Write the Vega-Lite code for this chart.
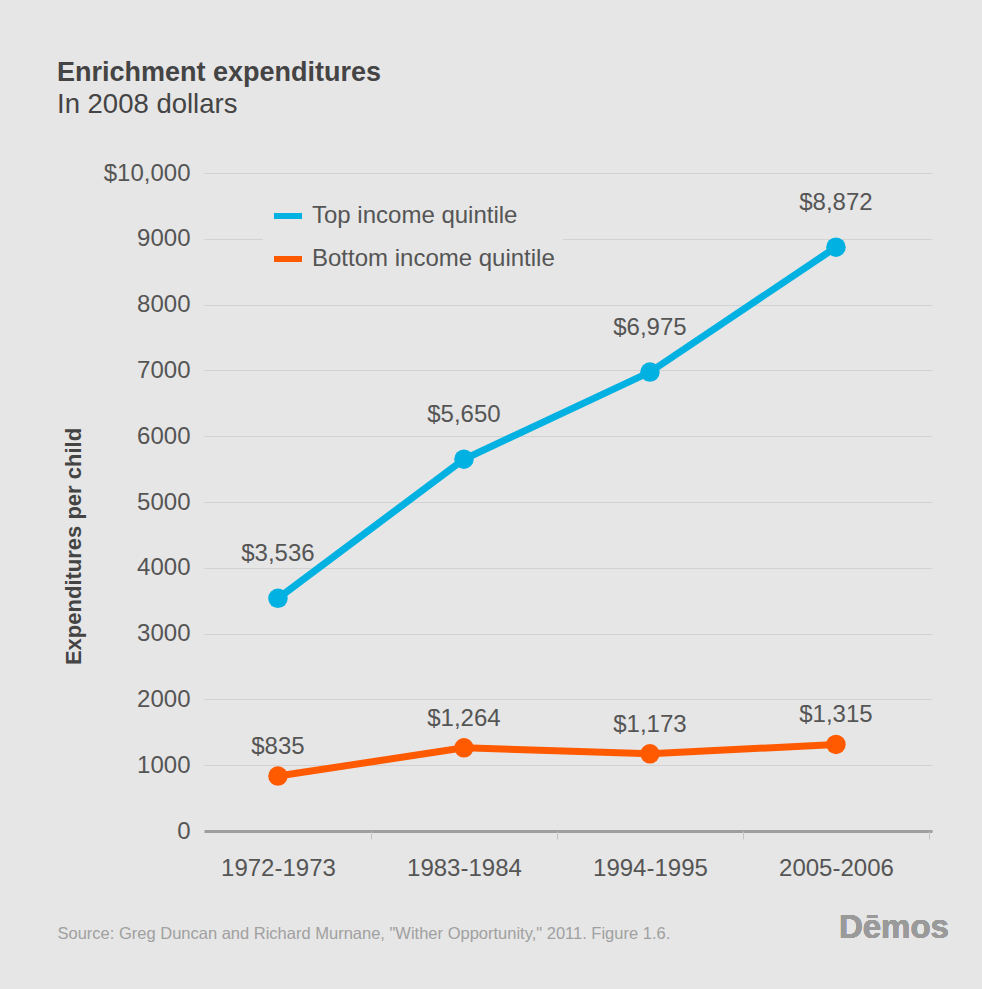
{
  "$schema": "https://vega.github.io/schema/vega-lite/v6.json",
  "autosize": {"type": "none"},
  "width": 728,
  "height": 658,
  "padding": {"left": 204, "top": 173, "right": 50, "bottom": 158},
  "background": "#e6e6e6",
  "title": {
    "text": "Enrichment expenditures",
    "subtitle": "In 2008 dollars",
    "anchor": "start",
    "frame": "group",
    "dx": -147,
    "offset": 42,
    "font": "Liberation Sans",
    "fontSize": 27,
    "fontWeight": "bold",
    "color": "#444444",
    "subtitleFont": "Liberation Sans",
    "subtitleFontSize": 27.5,
    "subtitleColor": "#444444",
    "subtitlePadding": 4
  },
  "config": {
    "view": {"stroke": null},
    "font": "Liberation Sans",
    "axis": {"labelFont": "Liberation Sans", "titleFont": "Liberation Sans"},
    "legend": {"labelFont": "Liberation Sans"}
  },
  "data": {
    "values": [
      {"period": "1972-1973", "series": "Top income quintile", "value": 3536},
      {"period": "1983-1984", "series": "Top income quintile", "value": 5650},
      {"period": "1994-1995", "series": "Top income quintile", "value": 6975},
      {"period": "2005-2006", "series": "Top income quintile", "value": 8872},
      {"period": "1972-1973", "series": "Bottom income quintile", "value": 835},
      {"period": "1983-1984", "series": "Bottom income quintile", "value": 1264},
      {"period": "1994-1995", "series": "Bottom income quintile", "value": 1173},
      {"period": "2005-2006", "series": "Bottom income quintile", "value": 1315}
    ]
  },
  "encoding": {
    "x": {
      "field": "period",
      "type": "ordinal",
      "sort": null,
      "scale": {"type": "point", "padding": 0.457, "align": 0.435},
      "axis": {
        "domain": false,
        "grid": false,
        "labelAngle": 0,
        "labelFontSize": 24,
        "labelColor": "#555555",
        "labelPadding": 17,
        "ticks": true,
        "tickSize": 8,
        "tickColor": "#c4c4c4",
        "tickWidth": 1,
        "tickOffset": 93,
        "labelOffset": -93,
        "title": "Source: Greg Duncan and Richard Murnane, \"Wither Opportunity,\" 2011. Figure 1.6.",
        "titleFontSize": 16.5,
        "titleFontWeight": "normal",
        "titleColor": "#a0a0a0",
        "titleAlign": "left",
        "titleBaseline": "middle",
        "titleX": -147,
        "titleY": 102
      }
    },
    "y": {
      "field": "value",
      "type": "quantitative",
      "scale": {"domain": [0, 10000], "nice": false},
      "axis": {
        "values": [0, 1000, 2000, 3000, 4000, 5000, 6000, 7000, 8000, 9000, 10000],
        "labelExpr": "datum.value === 10000 ? '$10,000' : datum.label",
        "format": "d",
        "domain": false,
        "ticks": false,
        "labelFontSize": 24,
        "labelColor": "#555555",
        "labelPadding": 14,
        "gridColor": {"condition": {"test": "datum.value === 0", "value": "#9e9e9e"}, "value": "#d2d2d2"},
        "gridWidth": {"condition": {"test": "datum.value === 0", "value": 3}, "value": 1},
        "title": "Expenditures per child",
        "titleFontSize": 22,
        "titleFontWeight": "bold",
        "titleColor": "#444444",
        "titleAngle": -90,
        "titleAlign": "center",
        "titleBaseline": "middle",
        "titleX": -131,
        "titleY": 373
      }
    },
    "color": {
      "field": "series",
      "type": "nominal",
      "scale": {"domain": ["Top income quintile", "Bottom income quintile"], "range": ["#00b1e1", "#ff5a00"]},
      "legend": {
        "title": null,
        "orient": "none",
        "legendX": 59,
        "legendY": 18,
        "fillColor": "#e6e6e6",
        "padding": 8,
        "symbolType": "stroke",
        "symbolStrokeWidth": 6,
        "symbolSize": 784,
        "labelFontSize": 24,
        "labelColor": "#555555",
        "labelOffset": 7,
        "rowPadding": 14,
        "labelLimit": 400
      }
    }
  },
  "layer": [
    {"mark": {"type": "line", "strokeWidth": 7}},
    {"mark": {"type": "point", "filled": true, "opacity": 1, "size": 380}},
    {
      "transform": [{"filter": "datum.series === 'Top income quintile'"}],
      "mark": {"type": "text", "dy": -44, "fontSize": 24, "color": "#555555"},
      "encoding": {"text": {"field": "value", "type": "quantitative", "format": "$,"}, "color": {"value": "#555555"}}
    },
    {
      "transform": [{"filter": "datum.series === 'Bottom income quintile'"}],
      "mark": {"type": "text", "dy": -29, "fontSize": 24, "color": "#555555"},
      "encoding": {"text": {"field": "value", "type": "quantitative", "format": "$,"}, "color": {"value": "#555555"}}
    },
    {
      "mark": {"type": "text", "text": "Dēmos", "fontSize": 33, "fontWeight": "bold", "color": "#9a9a9a", "dx": 58, "baseline": "middle"},
      "encoding": {
        "x": {"datum": "2005-2006"},
        "y": {"datum": -1480},
        "color": {"value": "#9a9a9a"}
      }
    }
  ]
}
